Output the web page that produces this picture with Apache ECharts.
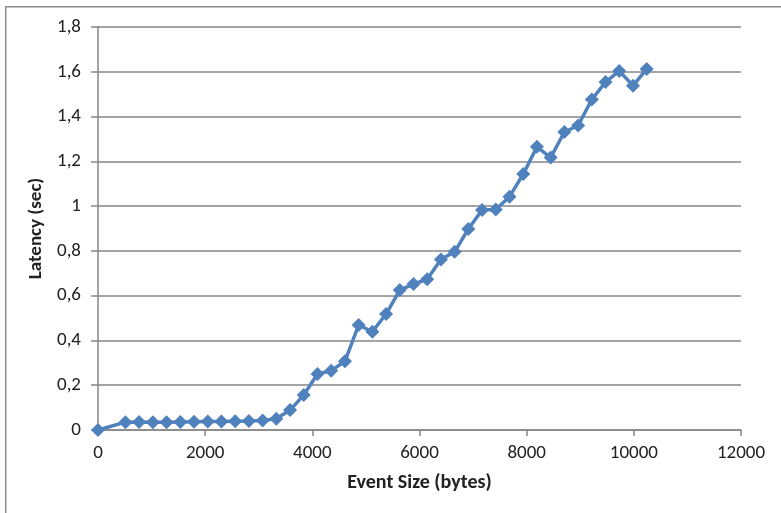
<!DOCTYPE html>
<html>
<head>
<meta charset="utf-8">
<script src="https://cdn.jsdelivr.net/npm/echarts@6/dist/echarts.min.js"></script>
<style>
html,body{margin:0;padding:0;background:#fff;}
#chart{width:781px;height:513px;}
</style>
</head>
<body>
<div id="chart"></div>
<script>
const eventSizes = [0, 512, 768, 1024, 1280, 1536, 1792, 2048, 2304, 2560, 2816, 3072, 3328, 3584, 3840, 4096, 4352, 4608, 4864, 5120, 5376, 5632, 5888, 6144, 6400, 6656, 6912, 7168, 7424, 7680, 7936, 8192, 8448, 8704, 8960, 9216, 9472, 9728, 9984, 10240];
const latency = [0, 0.035, 0.036, 0.035, 0.035, 0.036, 0.037, 0.038, 0.038, 0.039, 0.04, 0.042, 0.05, 0.089, 0.156, 0.25, 0.265, 0.307, 0.469, 0.439, 0.518, 0.625, 0.652, 0.673, 0.762, 0.796, 0.898, 0.983, 0.985, 1.042, 1.143, 1.265, 1.217, 1.331, 1.36, 1.476, 1.554, 1.604, 1.538, 1.612];
const xTitle = "Event Size (bytes)";
const yTitle = "Latency (sec)";

const points = eventSizes.map((x, i) => [x, latency[i]]);
const chart = echarts.init(document.getElementById('chart'), null, {renderer: 'canvas'});
const font = "Carlito, 'Open Sans', 'Liberation Sans', sans-serif";
chart.setOption({
  animation: false,
  graphic: [{
    type: 'rect', left: 5, top: 6, z: -1,
    shape: {width: 800, height: 520},
    style: {fill: '#fff', stroke: '#8c8c8c', lineWidth: 1.5}
  }],
  grid: {left: 98, top: 27, width: 643, height: 403, containLabel: false},
  xAxis: {
    type: 'value', min: 0, max: 12000, interval: 2000,
    name: xTitle, nameLocation: 'middle', nameGap: 43,
    nameTextStyle: {fontFamily: font, fontSize: 20, fontWeight: 'bold', color: '#222'},
    axisLine: {show: true, lineStyle: {color: '#868686', width: 1.5}},
    axisTick: {show: true, length: 6, lineStyle: {color: '#868686', width: 1.5}},
    axisLabel: {fontFamily: font, fontSize: 19, color: '#222', margin: 14,
      formatter: v => String(v)},
    splitLine: {show: false}
  },
  yAxis: {
    type: 'value', min: 0, max: 1.8, interval: 0.2,
    name: yTitle, nameLocation: 'middle', nameGap: 46, nameRotate: 90,
    nameTextStyle: {fontFamily: font, fontSize: 19, fontWeight: 'bold', color: '#222'},
    axisLine: {show: true, lineStyle: {color: '#868686', width: 1.5}},
    axisTick: {show: true, length: 7, lineStyle: {color: '#868686', width: 1.5}},
    axisLabel: {fontFamily: font, fontSize: 19, color: '#222', margin: 17,
      formatter: v => (Math.round(v * 10) / 10).toString().replace('.', ',')},
    splitLine: {show: true, lineStyle: {color: '#868686', width: 1.5}}
  },
  series: [{
    type: 'line', data: points,
    symbol: 'diamond', symbolSize: 14,
    lineStyle: {color: '#4F81BD', width: 3.5},
    itemStyle: {color: '#4F81BD'},
    clip: false
  }]
});
</script>
</body>
</html>
